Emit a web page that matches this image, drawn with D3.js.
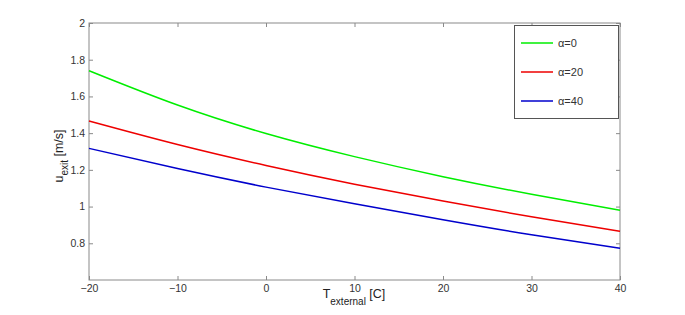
<!DOCTYPE html>
<html>
<head>
<meta charset="utf-8">
<script src="https://cdn.jsdelivr.net/npm/d3@7"></script>
<style>
  body { margin: 0; background: #fff; }
  svg { font-family: "Liberation Sans", Arial, sans-serif; }
</style>
</head>
<body>
<div id="container"></div>
<script>
/* DATA */
const temps = [-20, -10, 0, 10, 20, 30, 40];
const alpha0 = [1.74, 1.553, 1.398, 1.272, 1.163, 1.067, 0.98];
const alpha20 = [1.466, 1.338, 1.224, 1.122, 1.03, 0.944, 0.865];
const alpha40 = [1.317, 1.207, 1.106, 1.015, 0.928, 0.846, 0.773];
const seriesNames = ["α=0", "α=20", "α=40"];
const xTicks = [-20, -10, 0, 10, 20, 30, 40];
const yTicks = [0.8, 1, 1.2, 1.4, 1.6, 1.8, 2];

/* CONSTANTS */
const width = 685, height = 315,
  margin = { top: 23, bottom: 35, left: 89, right: 65 },
  colors = ["#00ee00", "#ee0000", "#0000cc"],
  axisColor = "#8a8a8a";

const series = [alpha0, alpha20, alpha40].map((vals, i) => ({
  name: seriesNames[i],
  color: colors[i],
  values: vals.map((v, j) => ({ t: temps[j], u: v }))
}));

const svg = d3.select("#container")
  .append("svg")
  .attr("width", width)
  .attr("height", height);

/* SCALES */
const xScale = d3.scaleLinear()
  .domain([-20, 40])
  .range([margin.left, width - margin.right]);

const yScale = d3.scaleLinear()
  .domain([0.6, 2])
  .range([height - margin.bottom, margin.top]);

// box
svg.append("rect")
  .attr("x", margin.left)
  .attr("y", margin.top)
  .attr("width", xScale(40) - xScale(-20))
  .attr("height", yScale(0.6) - yScale(2))
  .attr("fill", "none")
  .attr("stroke", axisColor)
  .attr("stroke-width", 1);

// axes, MATLAB style inward ticks
const fmt = d => d3.format("")(d).replace("-", "\u2013");

const xAxis = d3.axisBottom(xScale).tickValues(xTicks).tickSize(-4).tickPadding(5).tickFormat(fmt);
const gx = svg.append("g")
  .attr("transform", `translate(0,${yScale(0.6)})`)
  .call(xAxis);

const xAxisTop = d3.axisTop(xScale).tickValues(xTicks).tickSize(-4).tickFormat("");
const gxt = svg.append("g")
  .attr("transform", `translate(0,${yScale(2)})`)
  .call(xAxisTop);

const yAxis = d3.axisLeft(yScale).tickValues(yTicks).tickSize(-4).tickPadding(4).tickFormat(d3.format(""));
const gy = svg.append("g")
  .attr("transform", `translate(${xScale(-20)},0)`)
  .call(yAxis);

const yAxisRight = d3.axisRight(yScale).tickValues(yTicks).tickSize(-4).tickFormat("");
const gyr = svg.append("g")
  .attr("transform", `translate(${xScale(40)},0)`)
  .call(yAxisRight);

[gx, gxt, gy, gyr].forEach(g => {
  g.select(".domain").remove();
  g.selectAll(".tick line").attr("stroke", axisColor);
  g.selectAll(".tick text")
    .attr("fill", "#333")
    .attr("font-size", 10.5)
    .attr("font-family", "Liberation Sans, Arial, sans-serif");
});

/* LINES */
const line = d3.line()
  .x(d => xScale(d.t))
  .y(d => yScale(d.u))
  .curve(d3.curveNatural);

svg.selectAll(".series")
  .data(series)
  .join("path")
  .attr("class", "series")
  .attr("d", d => line(d.values))
  .attr("fill", "none")
  .attr("stroke", d => d.color)
  .attr("stroke-width", 1.5);

/* AXIS LABELS */
const xLabel = svg.append("text")
  .attr("x", 354)
  .attr("y", 298)
  .attr("text-anchor", "middle")
  .attr("font-size", 12.5)
  .attr("fill", "#222");
xLabel.append("tspan").text("T");
xLabel.append("tspan").attr("font-size", 10).attr("dy", 7).text("external");
xLabel.append("tspan").attr("dy", -7).text(" [C]");

const yLabel = svg.append("text")
  .attr("transform", `translate(63,156) rotate(-90)`)
  .attr("text-anchor", "middle")
  .attr("font-size", 12.5)
  .attr("fill", "#222");
yLabel.append("tspan").text("u");
yLabel.append("tspan").attr("font-size", 10).attr("dy", 5).text("exit");
yLabel.append("tspan").attr("dy", -5).text(" [m/s]");

/* LEGEND */
const legend = svg.append("g");
legend.append("rect")
  .attr("x", 514.5)
  .attr("y", 25.5)
  .attr("width", 104)
  .attr("height", 93)
  .attr("fill", "#fff")
  .attr("stroke", "#555")
  .attr("stroke-width", 1);

const items = legend.selectAll(".item")
  .data(series)
  .join("g")
  .attr("class", "item")
  .attr("transform", (d, i) => `translate(521,${43 + i * 29})`);

items.append("line")
  .attr("x1", 0).attr("x2", 32)
  .attr("y1", 0).attr("y2", 0)
  .attr("stroke", d => d.color)
  .attr("stroke-width", 1.5);

items.append("text")
  .attr("x", 37)
  .attr("y", 4)
  .attr("font-size", 11)
  .attr("fill", "#333")
  .text(d => d.name);
</script>
</body>
</html>
